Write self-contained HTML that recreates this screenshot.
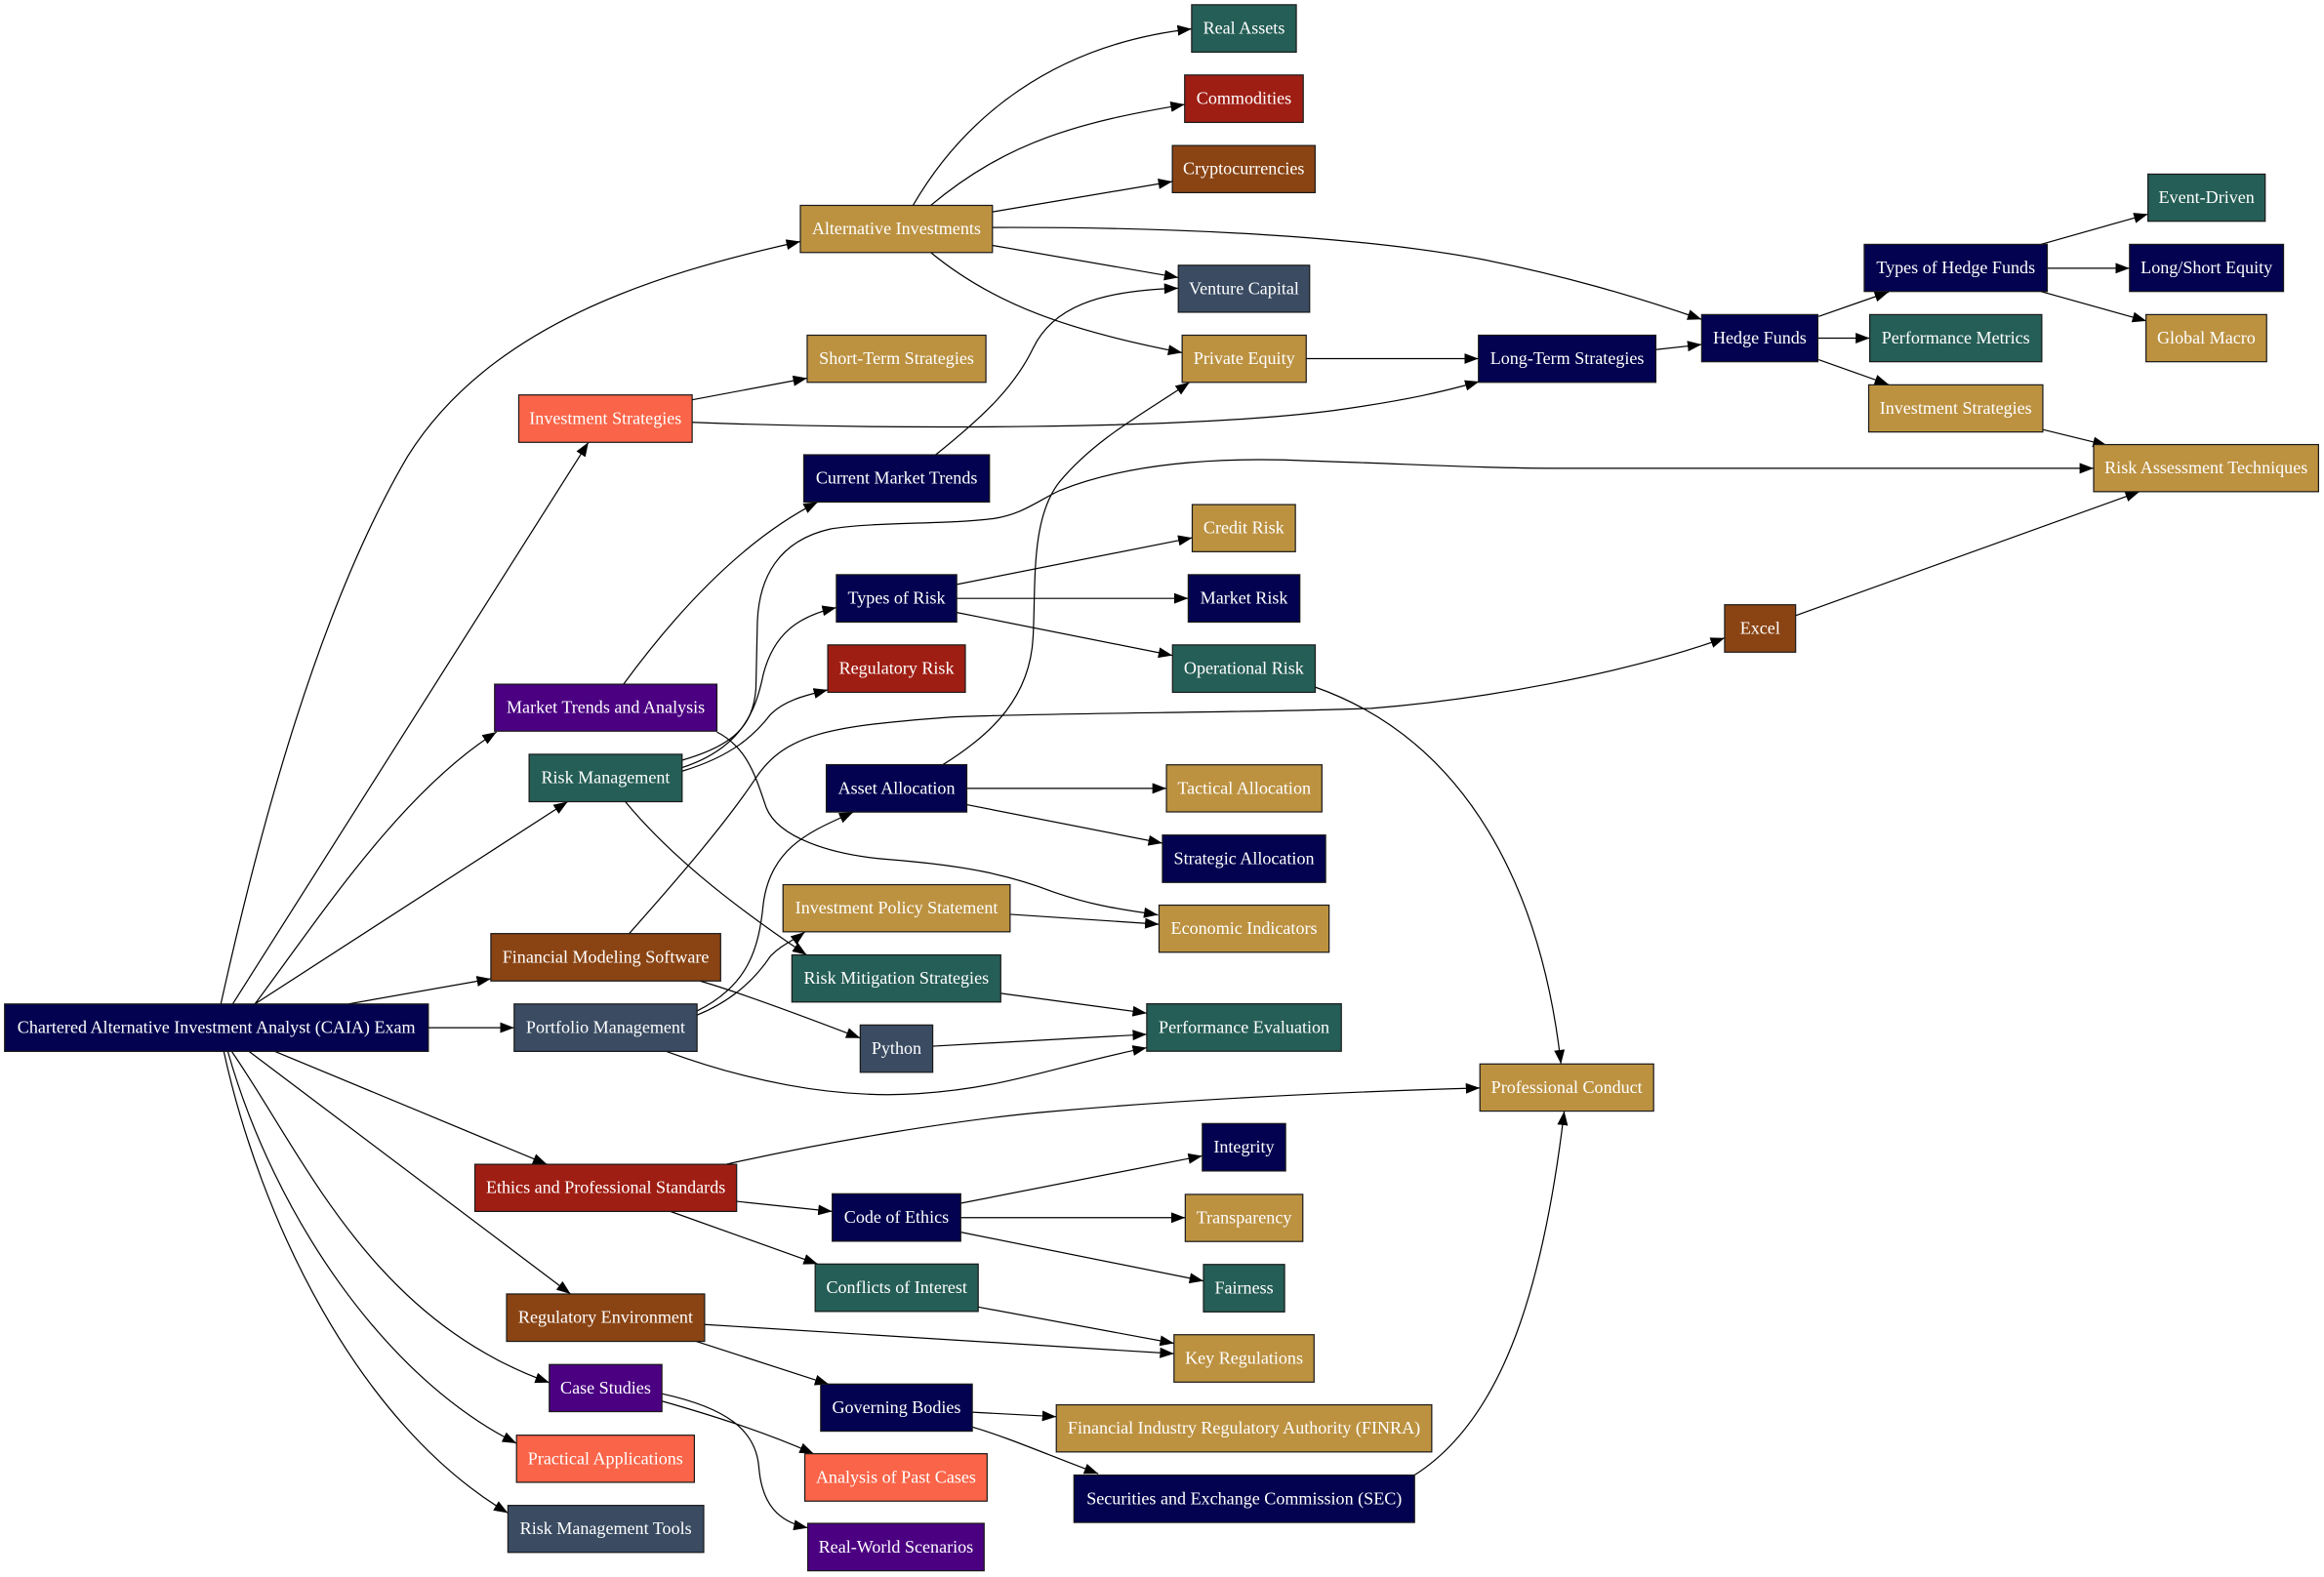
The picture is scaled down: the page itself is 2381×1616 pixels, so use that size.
<!DOCTYPE html>
<html>
<head>
<meta charset="utf-8">
<style>
html,body{margin:0;padding:0;background:#fff;}
svg{display:block;}
text{font-family:"Liberation Serif","Times New Roman",serif;font-size:11.9px;fill:#fff;text-anchor:middle;}
.e{fill:none;stroke:#000;stroke-width:0.8;marker-end:url(#ah);}
rect{stroke:#1a1a1a;stroke-width:0.8;}
.nv{fill:#020250;} .tl{fill:#255E56;} .gd{fill:#BC9241;} .dr{fill:#9F1E14;}
.br{fill:#8A4414;} .sl{fill:#3A4B62;} .ig{fill:#4B0082;} .tm{fill:#FA6448;}
</style>
</head>
<body>
<svg width="2381" height="1616" viewBox="0 0 1568 1064.2" preserveAspectRatio="none" xmlns="http://www.w3.org/2000/svg">
<defs>
<marker id="ah" markerWidth="10" markerHeight="8" refX="9.5" refY="3.6" orient="auto" markerUnits="userSpaceOnUse">
<path d="M0,0 L9.5,3.6 L0,7.2 z" fill="#000"/>
</marker>
</defs>

<!-- edges -->
<path class="e" d="M149,677.5 C175,560 215,410 275,308 C330,220 440,185 540,163"/>
<path class="e" d="M157,677.5 L397,298.5"/>
<path class="e" d="M172,677.5 C215,620 270,535 335,494"/>
<path class="e" d="M172,677.5 L383,541"/>
<path class="e" d="M235,677.5 L331.2,660.5"/>
<path class="e" d="M289,693.5 L346.9,693.5"/>
<path class="e" d="M185.5,709.5 L369,785.7"/>
<path class="e" d="M168,709.5 L385,873.2"/>
<path class="e" d="M156.3,709.5 C205,780 250,890 370.6,933"/>
<path class="e" d="M153.7,709.5 C185,820 260,930 348.5,974"/>
<path class="e" d="M151,709.5 C175,820 240,960 342.7,1021"/>

<path class="e" d="M616,138.6 C650,80 710,30 804,19.5"/>
<path class="e" d="M628,138.6 C680,95 730,82 799.3,70.5"/>
<path class="e" d="M669.6,143 L791,122.5"/>
<path class="e" d="M669.6,153.5 C800,153 920,160 1000,175 C1055,186 1100,199 1148.1,215.5"/>
<path class="e" d="M669.6,165.6 L795,187.3"/>
<path class="e" d="M628,170.4 C670,205 720,223 797.6,238"/>

<path class="e" d="M467,269.8 L544.6,255.2"/>
<path class="e" d="M467,285 C600,290 800,290 900,277 C950,270 975,264 998,257.5"/>
<path class="e" d="M631.3,306.9 C665,280 685,260 697,235 C710,208 740,196 795,194.5"/>
<path class="e" d="M420.7,461.7 C455,415 500,365 551.7,338.8"/>
<path class="e" d="M483.7,494 C505,505 510,525 517,545 C525,565 560,577 600,580 C650,584 680,590 711,602 C740,612 760,614 781.3,617.4"/>
<path class="e" d="M460.2,513 C495,503 508,490 510,465 L511,420 C512,390 525,365 560,357 C590,352 640,354 670,350 C690,347 700,338 715,331 C760,313 820,308 883,311 C950,313 1000,316 1050,316 L1412.6,316"/>
<path class="e" d="M460.2,518 C500,505 510,480 515,455 C522,428 538,416 564.3,410"/>
<path class="e" d="M460.2,520.4 C495,510 510,495 520,482 C530,472 545,469 558.5,465.5"/>
<path class="e" d="M421.9,541 C450,575 490,608 544.2,644.4"/>
<path class="e" d="M645.5,394.4 L804.4,362.9"/>
<path class="e" d="M645.5,403.8 L801.7,403.8"/>
<path class="e" d="M645.5,413.3 L791.1,442.3"/>
<path class="e" d="M887.4,463.7 C990,500 1040,600 1053.2,718"/>
<path class="e" d="M636.2,516 C670,495 695,470 697,430 C699,395 695,350 715,325 C740,295 775,277 802.6,258"/>
<path class="e" d="M652.3,532 L787,532"/>
<path class="e" d="M652.3,543 L784.3,569"/>
<path class="e" d="M424.5,630 C460,590 490,555 510,525 C530,495 560,490 640,484 C700,481 850,481 925,478 C1000,472 1095,455 1163.6,430.5"/>
<path class="e" d="M472.3,662 C500,670 540,685 580.4,700.5"/>
<path class="e" d="M470.3,682.2 C505,665 512,640 515,610 C520,570 550,560 575.7,548"/>
<path class="e" d="M470.3,685 C495,675 510,660 520,645 C528,637 535,635 543,629"/>
<path class="e" d="M449.6,709.5 C500,728 560,742 620,738 C680,734 710,720 773.7,707"/>
<path class="e" d="M681.5,617 L782,623.7"/>
<path class="e" d="M675.2,670.3 L773.7,683.7"/>
<path class="e" d="M629.3,706 L773.7,698"/>
<path class="e" d="M490,785.7 C560,770 650,755 710,750 C800,742 900,737 998.5,734.2"/>
<path class="e" d="M497,810.7 L561.5,817.5"/>
<path class="e" d="M452.3,817.5 L551.7,853"/>
<path class="e" d="M648.2,812 L811.2,780"/>
<path class="e" d="M648.2,821.7 L799.7,821.7"/>
<path class="e" d="M648.2,831.5 L812,864.4"/>
<path class="e" d="M660,882 L792.1,906.5"/>
<path class="e" d="M475.4,893.8 L792.1,913.5"/>
<path class="e" d="M469.8,905.2 C500,915 530,925 559.3,934.2"/>
<path class="e" d="M656,953 L712.7,956"/>
<path class="e" d="M656,963 C680,970 705,981 741,994.5"/>
<path class="e" d="M954.4,995.4 C1010,960 1040,880 1055.4,749.8"/>
<path class="e" d="M446.6,945.5 C480,955 515,966 549,981"/>
<path class="e" d="M446.6,940.5 C490,950 510,965 512,990 C514,1015 525,1027 545,1031"/>
<path class="e" d="M881.3,242 L997.5,242"/>
<path class="e" d="M1117.2,235.9 L1148.1,232.5"/>
<path class="e" d="M1227,213.6 L1274.3,197"/>
<path class="e" d="M1226.5,228.2 L1261.5,228.2"/>
<path class="e" d="M1227,242.7 L1274.3,259.5"/>
<path class="e" d="M1377,164.9 L1449.2,144.5"/>
<path class="e" d="M1381.3,181 L1436.8,181"/>
<path class="e" d="M1377,196.7 L1448.2,216.6"/>
<path class="e" d="M1378.3,289.9 L1421.6,300.5"/>
<path class="e" d="M1211.5,415.4 L1443.5,331.8"/>

<!-- nodes -->
<rect class="nv" x="3.1" y="677.5" width="285.9" height="32"/><text x="146" y="697.1">Chartered Alternative Investment Analyst (CAIA) Exam</text>

<rect class="tm" x="350" y="266.5" width="117" height="32"/><text x="408.5" y="286.1">Investment Strategies</text>
<rect class="ig" x="333.7" y="461.7" width="150" height="31.7"/><text x="408.7" y="481.1">Market Trends and Analysis</text>
<rect class="tl" x="357" y="509" width="103.2" height="32"/><text x="408.6" y="528.6">Risk Management</text>
<rect class="br" x="331.2" y="630" width="155" height="32"/><text x="408.7" y="649.6">Financial Modeling Software</text>
<rect class="sl" x="346.9" y="677.5" width="123.4" height="32"/><text x="408.6" y="697.1">Portfolio Management</text>
<rect class="dr" x="320.4" y="785.7" width="176.6" height="31.8"/><text x="408.7" y="805.2">Ethics and Professional Standards</text>
<rect class="br" x="341.8" y="873.2" width="133.6" height="32"/><text x="408.6" y="892.8">Regulatory Environment</text>
<rect class="ig" x="370.6" y="920.8" width="76" height="31.8"/><text x="408.6" y="940.3">Case Studies</text>
<rect class="tm" x="348.5" y="968.5" width="120" height="31.8"/><text x="408.5" y="988">Practical Applications</text>
<rect class="sl" x="342.7" y="1015.9" width="132.1" height="31.7"/><text x="408.75" y="1035.35">Risk Management Tools</text>

<rect class="gd" x="540" y="138.6" width="129.6" height="31.8"/><text x="604.8" y="158.1">Alternative Investments</text>
<rect class="gd" x="544.6" y="226.2" width="120.6" height="31.8"/><text x="604.9" y="245.7">Short-Term Strategies</text>
<rect class="nv" x="542.3" y="306.9" width="125.3" height="31.9"/><text x="604.95" y="326.45">Current Market Trends</text>
<rect class="nv" x="564.3" y="387.8" width="81.2" height="32"/><text x="604.9" y="407.4">Types of Risk</text>
<rect class="dr" x="558.5" y="435.2" width="92.8" height="32"/><text x="604.9" y="454.8">Regulatory Risk</text>
<rect class="nv" x="557.5" y="516" width="94.8" height="32"/><text x="604.9" y="535.6">Asset Allocation</text>
<rect class="gd" x="528.3" y="597" width="153.2" height="31.8"/><text x="604.9" y="616.5">Investment Policy Statement</text>
<rect class="tl" x="534.3" y="644.4" width="140.9" height="31.8"/><text x="604.75" y="663.9">Risk Mitigation Strategies</text>
<rect class="sl" x="580.4" y="691.7" width="48.9" height="31.9"/><text x="604.85" y="711.25">Python</text>
<rect class="nv" x="561.5" y="805.6" width="86.7" height="32"/><text x="604.85" y="825.2">Code of Ethics</text>
<rect class="tl" x="550" y="853" width="110" height="32"/><text x="605" y="872.6">Conflicts of Interest</text>
<rect class="nv" x="553.7" y="934" width="102.3" height="31.8"/><text x="604.85" y="953.5">Governing Bodies</text>
<rect class="tm" x="543" y="981" width="123" height="32"/><text x="604.5" y="1000.6">Analysis of Past Cases</text>
<rect class="ig" x="545" y="1028" width="119" height="32"/><text x="604.5" y="1047.6">Real-World Scenarios</text>

<rect class="tl" x="804" y="3.2" width="70.6" height="32"/><text x="839.3" y="22.8">Real Assets</text>
<rect class="dr" x="799.3" y="50.6" width="80" height="32"/><text x="839.3" y="70.2">Commodities</text>
<rect class="br" x="791" y="98.2" width="96.3" height="31.8"/><text x="839.15" y="117.7">Cryptocurrencies</text>
<rect class="sl" x="795" y="179" width="88.6" height="31.7"/><text x="839.3" y="198.45">Venture Capital</text>
<rect class="gd" x="797.6" y="226.2" width="83.7" height="31.8"/><text x="839.45" y="245.7">Private Equity</text>
<rect class="gd" x="804.4" y="340.5" width="69.6" height="31.8"/><text x="839.2" y="360">Credit Risk</text>
<rect class="nv" x="801.7" y="387.8" width="75.3" height="32"/><text x="839.35" y="407.4">Market Risk</text>
<rect class="tl" x="791.1" y="435.2" width="96.3" height="32"/><text x="839.25" y="454.8">Operational Risk</text>
<rect class="gd" x="787" y="516.1" width="104.9" height="31.8"/><text x="839.45" y="535.6">Tactical Allocation</text>
<rect class="nv" x="784.3" y="563.5" width="110.1" height="32"/><text x="839.35" y="583.1">Strategic Allocation</text>
<rect class="gd" x="782" y="610.8" width="114.7" height="31.8"/><text x="839.35" y="630.3">Economic Indicators</text>
<rect class="tl" x="773.7" y="677.4" width="131.3" height="32"/><text x="839.35" y="697">Performance Evaluation</text>
<rect class="nv" x="811.2" y="758.2" width="56.2" height="32"/><text x="839.3" y="777.8">Integrity</text>
<rect class="gd" x="799.7" y="806" width="79.3" height="31.8"/><text x="839.35" y="825.5">Transparency</text>
<rect class="tl" x="812" y="853.3" width="54.7" height="32"/><text x="839.35" y="872.9">Fairness</text>
<rect class="gd" x="792.1" y="900.7" width="94.5" height="32"/><text x="839.35" y="920.3">Key Regulations</text>
<rect class="gd" x="712.7" y="948" width="253.3" height="31.8"/><text x="839.35" y="967.5">Financial Industry Regulatory Authority (FINRA)</text>
<rect class="nv" x="724.6" y="995.4" width="229.8" height="32"/><text x="839.5" y="1015">Securities and Exchange Commission (SEC)</text>

<rect class="nv" x="997.5" y="226.2" width="119.7" height="31.8"/><text x="1057.35" y="245.7">Long-Term Strategies</text>
<rect class="gd" x="998.5" y="718" width="117.2" height="31.8"/><text x="1057.1" y="737.5">Professional Conduct</text>
<rect class="nv" x="1148.1" y="212.3" width="78.4" height="31.8"/><text x="1187.3" y="231.8">Hedge Funds</text>
<rect class="br" x="1163.6" y="408.1" width="47.9" height="32"/><text x="1187.55" y="427.7">Excel</text>
<rect class="nv" x="1257.8" y="164.9" width="123.5" height="31.8"/><text x="1319.55" y="184.4">Types of Hedge Funds</text>
<rect class="tl" x="1261.5" y="212.3" width="116.1" height="31.8"/><text x="1319.55" y="231.8">Performance Metrics</text>
<rect class="gd" x="1260.8" y="259.7" width="117.5" height="31.8"/><text x="1319.55" y="279.2">Investment Strategies</text>
<rect class="tl" x="1449.2" y="117.5" width="79.1" height="31.8"/><text x="1488.75" y="137">Event-Driven</text>
<rect class="nv" x="1436.8" y="164.9" width="103.9" height="31.8"/><text x="1488.75" y="184.4">Long/Short Equity</text>
<rect class="gd" x="1447.9" y="212.3" width="81.4" height="31.8"/><text x="1488.6" y="231.8">Global Macro</text>
<rect class="gd" x="1412.6" y="300" width="151.7" height="31.8"/><text x="1488.45" y="319.5">Risk Assessment Techniques</text>
</svg>
</body>
</html>
